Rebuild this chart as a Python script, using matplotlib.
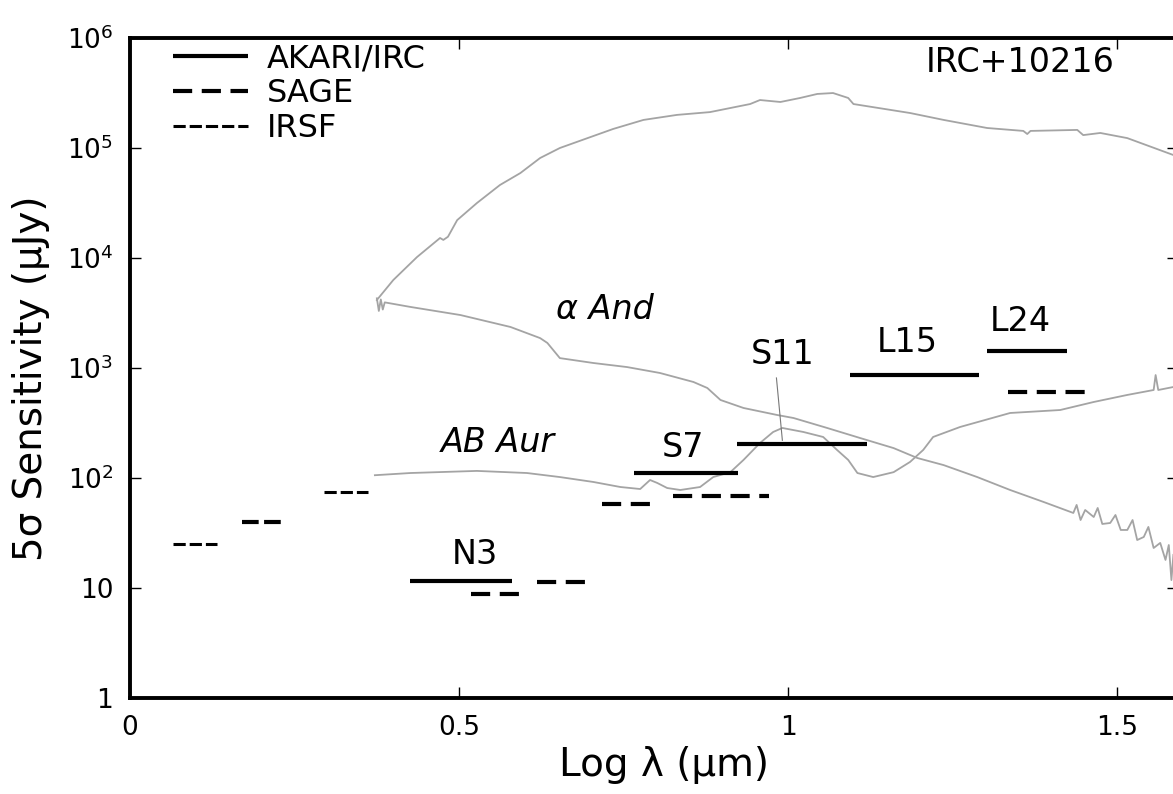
import numpy as np
import matplotlib
matplotlib.use("Agg")
import matplotlib.pyplot as plt

# detection limits (5 sigma, uJy) as horizontal bars over each band, x in log(lambda/um)
akari_bands = ['N3', 'S7', 'S11', 'L15', 'L24']
akari_x0 = [0.426, 0.765, 0.922, 1.094, 1.302]
akari_x1 = [0.580, 0.924, 1.119, 1.289, 1.424]
akari_sens = [11.6, 111, 204, 864, 1430]

sage_x0 = [0.518, 0.618, 0.717, 0.825, 1.333]
sage_x1 = [0.593, 0.693, 0.790, 0.971, 1.454]
sage_sens = [8.8, 11.3, 58, 69, 600]

irsf_x0 = [0.065, 0.170, 0.295]
irsf_x1 = [0.132, 0.234, 0.362]
irsf_sens = [25, 40, 75]

# template spectra
irc_logl = [0.375, 0.400, 0.436, 0.471, 0.476, 0.483, 0.497, 0.527, 0.562, 0.593,
            0.623, 0.653, 0.695, 0.734, 0.780, 0.831, 0.881, 0.942, 0.957, 0.988,
            1.018, 1.044, 1.068, 1.091, 1.099, 1.185, 1.236, 1.302, 1.357, 1.363,
            1.368, 1.439, 1.448, 1.474, 1.515, 1.585]
irc_flux = [4150, 6310, 10200, 15200, 14600, 15600, 22100, 31600, 46100, 59200,
            81100, 100000, 123000, 149000, 180000, 200000, 212000, 251000, 273000, 262000,
            285000, 310000, 316000, 285000, 251000, 208000, 180000, 152000, 143000, 134000,
            143000, 146000, 131000, 137000, 123000, 86300]

aand_logl = [0.375, 0.378, 0.381, 0.384, 0.387, 0.426, 0.502, 0.578, 0.623, 0.634,
             0.653, 0.704, 0.755, 0.805, 0.856, 0.877, 0.897, 0.932, 0.983, 1.008,
             1.059, 1.109, 1.160, 1.196, 1.236, 1.287, 1.337, 1.388, 1.433, 1.438,
             1.444, 1.451, 1.464, 1.470, 1.477, 1.489, 1.497, 1.505, 1.515, 1.523,
             1.530, 1.540, 1.547, 1.555, 1.565, 1.573, 1.578, 1.582, 1.585]
aand_flux = [4300, 3300, 4200, 3400, 3950, 3590, 3030, 2360, 1870, 1690,
             1230, 1110, 1020, 901, 746, 658, 512, 433, 374, 351,
             285, 231, 187, 152, 131, 102, 77.8, 60.5, 48.1, 56.9,
             41.5, 51.2, 44.2, 53.4, 38.2, 39.0, 46.1, 33.7, 33.7, 41.5,
             27.3, 29.1, 35.9, 23.1, 25.7, 18.0, 24.6, 11.8, 20.0]

abaur_logl = [0.372, 0.426, 0.527, 0.603, 0.653, 0.704, 0.745, 0.775, 0.790, 0.801,
              0.816, 0.836, 0.866, 0.886, 0.912, 0.932, 0.957, 0.977, 0.991, 1.023,
              1.053, 1.074, 1.091, 1.105, 1.129, 1.160, 1.185, 1.205, 1.220, 1.261,
              1.337, 1.413, 1.464, 1.515, 1.555, 1.558, 1.562, 1.585]
abaur_flux = [106, 111, 116, 111, 102, 92, 82.8, 79.4, 95.9, 90.1,
              81.1, 77.8, 82.8, 102, 113, 146, 208, 262, 285, 262,
              236, 180, 146, 111, 102, 113, 140, 180, 236, 291,
              390, 415, 491, 569, 631, 863, 631, 672]

ytick_vals = [1, 10, 1e2, 1e3, 1e4, 1e5, 1e6]
ytick_text = ['1', '10', '$10^2$', '$10^3$', '$10^4$', '$10^5$', '$10^6$']
xtick_vals = [0, 0.5, 1, 1.5]
xtick_text = ['0', '0.5', '1', '1.5']

fig = plt.figure(figsize=(11.73, 7.94), dpi=100)
ax = fig.add_axes([130 / 1173, 96 / 794, 1048 / 1173, 660 / 794])

gray = '#a4a4a4'
ax.plot(irc_logl, irc_flux, color=gray, lw=1.3)
ax.plot(aand_logl, aand_flux, color=gray, lw=1.3)
ax.plot(abaur_logl, abaur_flux, color=gray, lw=1.3)

# instrument limits
h_akari = None
for a, b, s in zip(akari_x0, akari_x1, akari_sens):
    h_akari, = ax.plot([a, b], [s, s], color='black', lw=3.0, solid_capstyle='butt')
h_sage = None
for a, b, s in zip(sage_x0, sage_x1, sage_sens):
    h_sage, = ax.plot([a, b], [s, s], color='black', lw=3.0, dashes=(4.6, 2.3),
                      dash_capstyle='butt')
h_irsf = None
for i, (a, b, s) in enumerate(zip(irsf_x0, irsf_x1, irsf_sens)):
    lw = 3.0 if i == 1 else 2.2
    h_irsf, = ax.plot([a, b], [s, s], color='black', lw=lw, dashes=(4.0, 1.3),
                      dash_capstyle='butt')

# S11 leader line
ax.plot([0.982, 0.991], [812, 220], color='#777777', lw=0.8)

txt = dict(fontsize=24, ha='center', va='center')
ax.text(0.524, 20, 'N3', **txt)
ax.text(0.840, 191, 'S7', **txt)
ax.text(0.992, 1313, 'S11', **txt)
ax.text(1.181, 1723, 'L15', **txt)
ax.text(1.353, 2620, 'L24', **txt)
ax.text(0.559, 212, 'AB Aur', style='italic', **txt)
ax.text(0.722, 3370, 'α And', style='italic', **txt)
ax.text(1.353, 6.05e5, 'IRC+10216', **txt)

ax.set_yscale('log')
ax.set_xlim(0, 1.592)
ax.set_ylim(1, 1e6)
ax.set_yticks(ytick_vals)
ax.set_yticklabels(ytick_text)
ax.yaxis.set_minor_locator(matplotlib.ticker.NullLocator())
ax.set_xticks(xtick_vals)
ax.set_xticklabels(xtick_text)
ax.tick_params(direction='in', length=8, width=1, top=True, right=True,
               labelsize=19, pad=12)
for sp in ax.spines.values():
    sp.set_linewidth(2.8)

ax.set_xlabel('Log λ (μm)', fontsize=28)
ax.xaxis.set_label_coords(0.51, -0.072)
ax.set_ylabel('5σ Sensitivity (μJy)', fontsize=28)
ax.yaxis.set_label_coords(-0.076, 0.485)

leg = ax.legend([h_akari, h_sage, h_irsf], ['AKARI/IRC', 'SAGE', 'IRSF'],
                loc='upper left', bbox_to_anchor=(0.041, 0.992), frameon=False,
                fontsize=23, handlelength=2.35, handletextpad=0.6,
                labelspacing=0.12, borderpad=0, borderaxespad=0)
leg.legend_handles[2].set_linewidth(2.2)

fig.savefig('out.png', dpi=100)
